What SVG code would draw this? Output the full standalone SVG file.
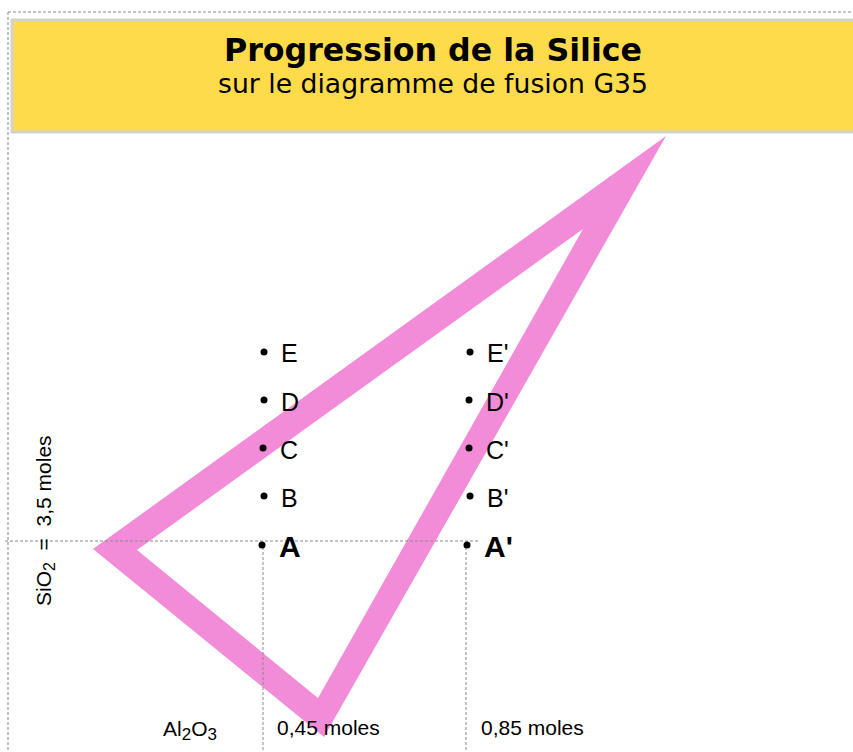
<svg xmlns="http://www.w3.org/2000/svg" width="853" height="752" viewBox="0 0 853 752">
<style>
.guide{stroke:#888;stroke-width:1;stroke-dasharray:3,2;fill:none}
.lbl{font-family:"Liberation Sans",Arial,sans-serif;font-size:25px;fill:#000}
.big{font-family:"Liberation Sans",Arial,sans-serif;font-size:30px;font-weight:bold;fill:#000}
.ax{font-family:"Liberation Sans",Arial,sans-serif;font-size:21px;fill:#000}
.dot{fill:#000}
</style>
<rect width="853" height="752" fill="#fff"/>
<g id="header">
<rect x="12" y="20" width="845" height="112" fill="#FEDB4B" stroke="#D2D2D2" stroke-width="3"/>
<text x="433" y="61" text-anchor="middle" font-family="DejaVu Sans, sans-serif" font-size="32" font-weight="bold" textLength="418" lengthAdjust="spacingAndGlyphs">Progression de la Silice</text>
<text x="433" y="93" text-anchor="middle" font-family="DejaVu Sans, sans-serif" font-size="26" textLength="430" lengthAdjust="spacingAndGlyphs">sur le diagramme de fusion G35</text>
</g>
<g id="triangle">
<path d="M666,136 L93,549 L324,737 Z M583,229 L318,698 L137,550 Z" fill="#F28CD9" fill-rule="evenodd"/>
</g>
<g id="connectors">
<line class="guide" x1="8" y1="12" x2="853" y2="12"/>
<line class="guide" x1="8" y1="12" x2="8" y2="752"/>
<line class="guide" x1="5" y1="541" x2="480" y2="541"/>
<line class="guide" x1="263" y1="547" x2="263" y2="752"/>
<line class="guide" x1="466" y1="547" x2="466" y2="752"/>
</g>
<g id="left-points">
<circle class="dot" cx="264" cy="352" r="3.5"/><text class="lbl" x="281" y="362">E</text>
<circle class="dot" cx="264" cy="400" r="3.5"/><text class="lbl" x="281" y="411">D</text>
<circle class="dot" cx="263" cy="448" r="3.5"/><text class="lbl" x="280" y="459">C</text>
<circle class="dot" cx="264" cy="496" r="3.5"/><text class="lbl" x="281" y="507">B</text>
<circle class="dot" cx="262" cy="545" r="3.5"/><text class="big" x="279" y="557">A</text>
</g>
<g id="right-points">
<circle class="dot" cx="470" cy="352" r="3.5"/><text class="lbl" x="487" y="362">E'</text>
<circle class="dot" cx="469" cy="400" r="3.5"/><text class="lbl" x="486" y="411">D'</text>
<circle class="dot" cx="469" cy="448" r="3.5"/><text class="lbl" x="486" y="459">C'</text>
<circle class="dot" cx="470" cy="496" r="3.5"/><text class="lbl" x="487" y="507">B'</text>
<circle class="dot" cx="467" cy="545" r="3.5"/><text class="big" x="484" y="557">A'</text>
</g>
<g id="axis-labels">
<text class="ax" transform="translate(51,606) rotate(-90)" xml:space="preserve">SiO<tspan font-size="16" dy="4">2</tspan><tspan dy="-4">  =  3,5 moles</tspan></text>
<text class="ax" x="163" y="736">Al<tspan font-size="17" dy="4">2</tspan><tspan dy="-4">O</tspan><tspan font-size="17" dy="4">3</tspan></text>
<text class="ax" x="277" y="735">0,45 moles</text>
<text class="ax" x="481" y="735">0,85 moles</text>
</g>
</svg>
